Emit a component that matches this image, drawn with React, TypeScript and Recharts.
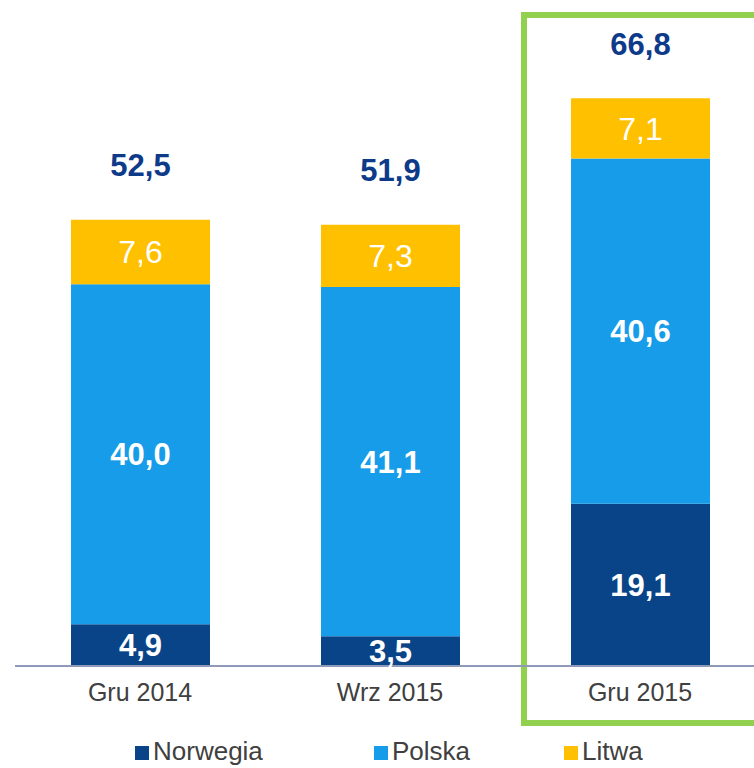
import React from 'react';
import { BarChart, Bar, XAxis, YAxis, LabelList } from 'recharts';

const categories = ['Gru 2014', 'Wrz 2015', 'Gru 2015'];
const norwegia = [4.9, 3.5, 19.1];
const polska = [40.0, 41.1, 40.6];
const litwa = [7.6, 7.3, 7.1];
const totals = [52.5, 51.9, 66.8];

const seriesNames = ['Norwegia', 'Polska', 'Litwa'];
const COLORS = ['#0a4488', '#169ce8', '#ffc000'];
const NAVY = '#0e3a8a';
const FONT = '"Liberation Sans", Arial, sans-serif';

const data = categories.map((name, i) => ({
  name,
  norwegia: norwegia[i],
  polska: polska[i],
  litwa: litwa[i],
  total: totals[i],
}));

const fmt = (v: any) => Number(v).toFixed(1).replace('.', ',');

const TotalLabel = (props: any) => {
  const { x, y, width, index } = props;
  return (
    <text
      x={Number(x) + Number(width) / 2}
      y={Number(y) - 54}
      textAnchor="middle"
      dominantBaseline="central"
      fill={NAVY}
      fontSize={31}
      fontWeight="bold"
      fontFamily={FONT}
    >
      {fmt(totals[index])}
    </text>
  );
};

const legendLeft = [135, 374, 564];

const App = () => {
  return (
    <div
      style={{
        position: 'absolute',
        left: 0,
        top: 0,
        width: 754,
        height: 768,
        overflow: 'hidden',
        background: '#fff',
        fontFamily: FONT,
      }}
    >
      {/* highlight frame around the latest period */}
      <div
        style={{
          position: 'absolute',
          left: 521,
          top: 12,
          width: 260,
          height: 714,
          border: '6px solid #92d050',
          boxSizing: 'border-box',
        }}
      />
      <div style={{ position: 'absolute', left: 0, top: 0 }}>
        <BarChart
          width={780}
          height={768}
          data={data}
          margin={{ top: 71, right: 15, left: 15, bottom: 62 }}
        >
          <XAxis
            dataKey="name"
            height={40}
            tickLine={false}
            axisLine={{ stroke: '#8e9ab8', strokeWidth: 2 }}
            tick={{ fill: '#404040', fontSize: 25, fontFamily: FONT }}
            tickMargin={11}
          />
          <YAxis hide domain={[0, 70]} />
          <Bar dataKey="norwegia" stackId="a" fill={COLORS[0]} barSize={139} isAnimationActive={false}>
            <LabelList
              dataKey="norwegia"
              position="center"
              formatter={fmt}
              fill="#fff"
              fontSize={31}
              fontWeight="bold"
              fontFamily={FONT}
            />
          </Bar>
          <Bar dataKey="polska" stackId="a" fill={COLORS[1]} barSize={139} isAnimationActive={false}>
            <LabelList
              dataKey="polska"
              position="center"
              formatter={fmt}
              fill="#fff"
              fontSize={31}
              fontWeight="bold"
              fontFamily={FONT}
            />
          </Bar>
          <Bar dataKey="litwa" stackId="a" fill={COLORS[2]} barSize={139} isAnimationActive={false}>
            <LabelList
              dataKey="litwa"
              position="center"
              formatter={fmt}
              fill="#fff"
              fontSize={32}
              fontFamily={FONT}
            />
            <LabelList dataKey="total" content={<TotalLabel />} />
          </Bar>
        </BarChart>
      </div>
      {seriesNames.map((name, i) => (
        <div
          key={name}
          style={{
            position: 'absolute',
            left: legendLeft[i],
            top: 736,
            display: 'flex',
            alignItems: 'center',
            fontSize: 26,
            color: '#404040',
            lineHeight: '30px',
          }}
        >
          <span
            style={{
              display: 'inline-block',
              width: 14,
              height: 14,
              background: COLORS[i],
              marginRight: 4,
              marginTop: 4,
            }}
          />
          {name}
        </div>
      ))}
    </div>
  );
};

export default App;
